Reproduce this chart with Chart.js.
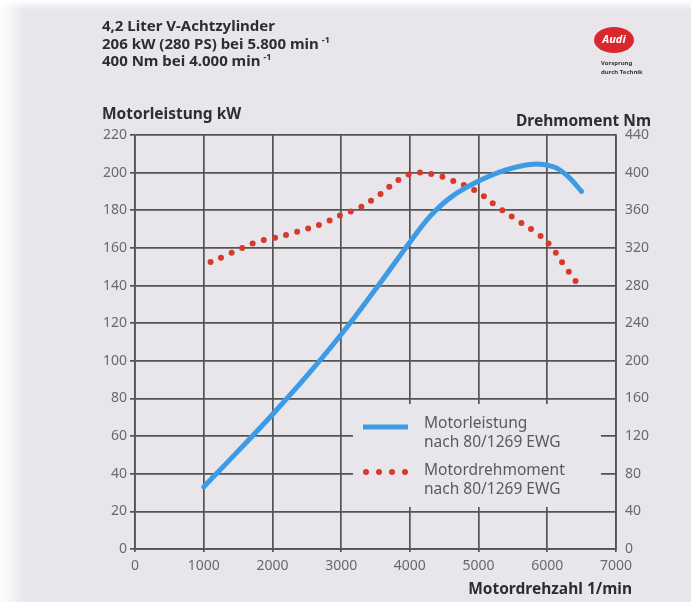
<!DOCTYPE html>
<html>
<head>
<meta charset="UTF-8">
<title>4,2 Liter V-Achtzylinder - Leistung und Drehmoment</title>
<script src="https://cdn.jsdelivr.net/npm/chart.js@4.4.0/dist/chart.umd.min.js"></script>
<style>
    html, body { margin: 0; padding: 0; background: #e9e6eb; }
    #wrap { width: 691px; height: 602px; }
</style>
</head>
<body>
<div id="wrap"><canvas id="engineChart" width="691" height="602"></canvas></div>
<script>
// Motorleistung (kW) ueber Drehzahl
var rpmPower = [1000, 1500, 2000, 2500, 3000, 3500, 3800, 4000, 4300, 4600, 5000, 5400, 5800, 6100, 6300, 6500];
var powerKw  = [33, 52, 71.5, 92, 114, 138, 153, 163, 177, 187, 195.5, 201.5, 204.5, 203, 198, 190];

// Motordrehmoment (Nm) ueber Drehzahl
var rpmTorque = [1100, 1300, 1500, 1800, 2000, 2350, 2700, 3000, 3250, 3550, 3850, 4100, 4400, 4600, 4950, 5250, 5550, 5880, 6050, 6250, 6460];
var torqueNm  = [305, 311, 318, 327, 330, 337, 345, 355, 362, 376, 393, 400, 397, 392, 381, 365, 350, 334, 322, 301, 280];

// Achsen
var rpmTicks = [0, 1000, 2000, 3000, 4000, 5000, 6000, 7000];
var kwTicks  = [0, 20, 40, 60, 80, 100, 120, 140, 160, 180, 200, 220];
var nmTicks  = [0, 40, 80, 120, 160, 200, 240, 280, 320, 360, 400, 440];

var headerLines = ['4,2 Liter V-Achtzylinder', '206 kW (280 PS) bei 5.800 min', '400 Nm bei 4.000 min'];
var legendPower  = ['Motorleistung', 'nach 80/1269 EWG'];
var legendTorque = ['Motordrehmoment', 'nach 80/1269 EWG'];

var FONT = '"Noto Sans", "DejaVu Sans", sans-serif';
var BG = '#e9e6eb';
var GRID = '#545454';
var BLUE = '#3d9be6';
var RED = '#d63a2c';

function toPoints(xs, ys) {
    var pts = [];
    for (var i = 0; i < xs.length; i++) pts.push({x: xs[i], y: ys[i]});
    return pts;
}

var decor = {
    id: 'decor',
    beforeDraw: function (chart) {
        var ctx = chart.ctx;
        ctx.save();
        ctx.fillStyle = BG;
        ctx.fillRect(0, 0, chart.width, chart.height);
        // heller Rand links / oben (Scan)
        var g = ctx.createLinearGradient(0, 0, 24, 0);
        g.addColorStop(0, '#ffffff');
        g.addColorStop(1, 'rgba(255,255,255,0)');
        ctx.fillStyle = g;
        ctx.fillRect(0, 0, 24, chart.height);
        var g2 = ctx.createLinearGradient(0, 0, 0, 10);
        g2.addColorStop(0, '#ffffff');
        g2.addColorStop(1, 'rgba(255,255,255,0)');
        ctx.fillStyle = g2;
        ctx.fillRect(0, 0, chart.width, 10);
        ctx.restore();
    },
    beforeDatasetsDraw: function (chart) {
        // Legendenfeld ueberdeckt das Raster
        var ctx = chart.ctx;
        ctx.save();
        ctx.fillStyle = BG;
        ctx.fillRect(353, 404, 248, 103);

        ctx.strokeStyle = BLUE;
        ctx.lineWidth = 5;
        ctx.beginPath();
        ctx.moveTo(363, 427);
        ctx.lineTo(408, 427);
        ctx.stroke();

        ctx.fillStyle = RED;
        [366, 379, 392, 405].forEach(function (x) {
            ctx.beginPath();
            ctx.arc(x, 472, 3, 0, Math.PI * 2);
            ctx.fill();
        });

        ctx.fillStyle = '#5a5a5a';
        ctx.font = '15.5px ' + FONT;
        ctx.textBaseline = 'middle';
        ctx.fillText(legendPower[0], 424, 424);
        ctx.fillText(legendPower[1], 424, 443);
        ctx.fillText(legendTorque[0], 424, 471);
        ctx.fillText(legendTorque[1], 424, 490);
        ctx.restore();
    },
    afterDraw: function (chart) {
        var ctx = chart.ctx;
        ctx.save();
        ctx.fillStyle = '#2e2e2e';
        ctx.textBaseline = 'middle';

        // Kopfzeilen
        ctx.font = 'bold 15px ' + FONT;
        ctx.fillText(headerLines[0], 102, 27);
        ctx.fillText(headerLines[1], 102, 45);
        ctx.fillText(headerLines[2], 102, 62);
        var w1 = ctx.measureText(headerLines[1]).width;
        var w2 = ctx.measureText(headerLines[2]).width;
        ctx.font = 'bold 9px ' + FONT;
        ctx.fillText('-1', 102 + w1 + 3, 40);
        ctx.fillText('-1', 102 + w2 + 3, 57);

        // Achsentitel
        ctx.font = 'bold 15.5px ' + FONT;
        ctx.textAlign = 'left';
        ctx.fillText('Motorleistung kW', 102, 115);
        ctx.textAlign = 'right';
        ctx.fillText('Drehmoment Nm', 651, 122);
        ctx.fillText('Motordrehzahl 1/min', 632, 590);

        // Logo
        ctx.fillStyle = '#d9272d';
        ctx.beginPath();
        ctx.ellipse(614, 40, 20, 13, 0, 0, Math.PI * 2);
        ctx.fill();
        ctx.fillStyle = '#ffffff';
        ctx.textAlign = 'center';
        ctx.font = 'italic bold 11px ' + FONT;
        ctx.fillText('Audi', 614, 40);
        ctx.fillStyle = '#333';
        ctx.textAlign = 'left';
        ctx.font = 'bold 6px ' + FONT;
        ctx.fillText('Vorsprung', 601, 63);
        ctx.fillText('durch Technik', 601, 72);
        ctx.restore();
    }
};

var tickFont = {family: FONT, size: 14};

new Chart(document.getElementById('engineChart'), {
    type: 'line',
    data: {
        datasets: [{
            label: legendPower.join(' '),
            data: toPoints(rpmPower, powerKw),
            yAxisID: 'y',
            borderColor: BLUE,
            borderWidth: 5,
            borderCapStyle: 'round',
            pointRadius: 0,
            tension: 0.4,
            fill: false
        }, {
            label: legendTorque.join(' '),
            data: toPoints(rpmTorque, torqueNm),
            yAxisID: 'y1',
            borderColor: RED,
            borderWidth: 6,
            borderCapStyle: 'round',
            borderDash: [0, 11.5],
            pointRadius: 0,
            tension: 0.4,
            fill: false
        }]
    },
    options: {
        responsive: false,
        animation: false,
        layout: {padding: {top: 135, left: 0, right: 0, bottom: 0}},
        plugins: {
            legend: {display: false},
            title: {display: false},
            tooltip: {enabled: false}
        },
        scales: {
            x: {
                type: 'linear',
                min: 0,
                max: 7000,
                afterBuildTicks: function (s) { s.ticks = rpmTicks.map(function (v) { return {value: v}; }); },
                afterFit: function (s) { s.height = 53; },
                ticks: {color: '#6a6a6a', font: tickFont, padding: 6, maxRotation: 0,
                        callback: function (v) { return String(v); }},
                grid: {color: GRID, lineWidth: 1.7, tickLength: 3},
                border: {color: GRID, width: 1.7}
            },
            y: {
                position: 'left',
                min: 0,
                max: 220,
                afterBuildTicks: function (s) { s.ticks = kwTicks.map(function (v) { return {value: v}; }); },
                afterFit: function (s) { s.width = 135; },
                ticks: {color: '#6a6a6a', font: tickFont, padding: 3},
                grid: {color: GRID, lineWidth: 1.7, tickLength: 5},
                border: {color: GRID, width: 1.7}
            },
            y1: {
                position: 'right',
                min: 0,
                max: 440,
                afterBuildTicks: function (s) { s.ticks = nmTicks.map(function (v) { return {value: v}; }); },
                afterFit: function (s) { s.width = 75; },
                ticks: {color: '#6a6a6a', font: tickFont, padding: 9},
                grid: {drawOnChartArea: false, drawTicks: false},
                border: {color: GRID, width: 1.7}
            }
        }
    },
    plugins: [decor]
});
</script>
</body>
</html>
